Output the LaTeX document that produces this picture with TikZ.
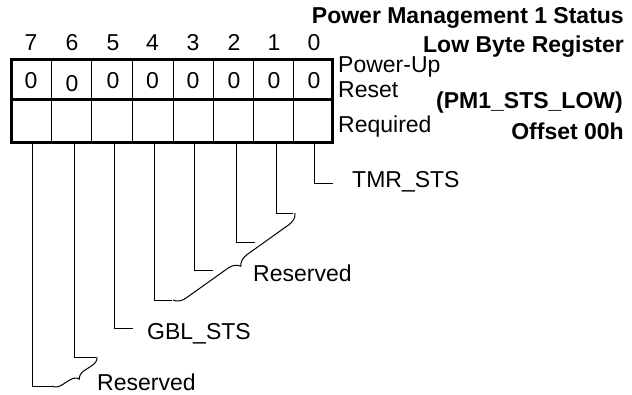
\documentclass[tikz,border=0pt]{standalone}
\usepackage{fontspec}
\setmainfont{Liberation Sans}
\usetikzlibrary{decorations.pathreplacing}
\begin{document}
\begin{tikzpicture}[x=1pt,y=-1pt,
  txt/.style={inner sep=0pt, font=\fontsize{23}{26}\selectfont},
  btxt/.style={inner sep=0pt, font=\fontsize{23}{26}\selectfont\bfseries},
  boxline/.style={line width=3pt},
  thinline/.style={line width=1pt},
  lead/.style={line width=1pt},
  bracestyle/.style={decorate, line width=1pt}]
\useasboundingbox (0,0) rectangle (632,394);
% register
\foreach \x in {51.5,91.8,132.5,173,213.3,253.5,293.7}{
  \draw[thinline] (\x,59) -- (\x,142);
}
\draw[boxline] (11,59) rectangle (332,142);
\draw[boxline] (11,99) -- (332,99);
% bit numbers and reset values
\foreach \b/\x in {7/31,6/72,5/113,4/152.5,3/193,2/234,1/274,0/314}{
  \node[txt, anchor=base] (n\b) at (\x,50) {\b};
}
\foreach \b/\x/\y in {7/31/88,6/72/91,5/113/88,4/152.5/88,3/193/88,2/234/88,1/274/88,0/314/88}{
  \node[txt, anchor=base] (z\b) at (\x,\y) {0};
}
% titles
\node[btxt, anchor=base east] (t1) at (624,23) {Power Management 1 Status};
\node[btxt, anchor=base east] (t2) at (624,52) {Low Byte Register};
\node[btxt, anchor=base east] (t3) at (623,108) {(PM1\_STS\_LOW)};
\node[btxt, anchor=base east] (t4) at (624,139) {Offset 00h};
\node[txt, anchor=base west] (pu) at (338,72) {Power-Up};
\node[txt, anchor=base west] (rs) at (338,97) {Reset};
\node[txt, anchor=base west] (rq) at (338,132) {Required};
% labels
\node[txt, anchor=base west] (tmr) at (352,187) {TMR\_STS};
\node[txt, anchor=base west] (res1) at (253,281) {Reserved};
\node[txt, anchor=base west] (gbl) at (147,339) {GBL\_STS};
\node[txt, anchor=base west] (res2) at (97,390) {Reserved};
% leader lines
\foreach \b/\x/\y/\e in {0/314/183/333,1/276/213/293,2/236/242/255,3/194/270/213,4/154/300/172,5/114/328/133,6/74/357/96,7/32/386/52}{
  \coordinate (s\b) at (\x,143);
  \coordinate (e\b) at (\e,\y);
  \draw[lead] (s\b) |- (e\b);
}
% braces
\coordinate (u1) at (295,213);
\coordinate (u2) at (173,300);
\coordinate (l1) at (97,357);
\coordinate (l2) at (52,386);
\draw[bracestyle, decoration={brace,amplitude=12pt}] (u1) -- (u2);
\draw[bracestyle, decoration={brace,amplitude=9pt}] (l1) -- (l2);
\end{tikzpicture}
\end{document}
